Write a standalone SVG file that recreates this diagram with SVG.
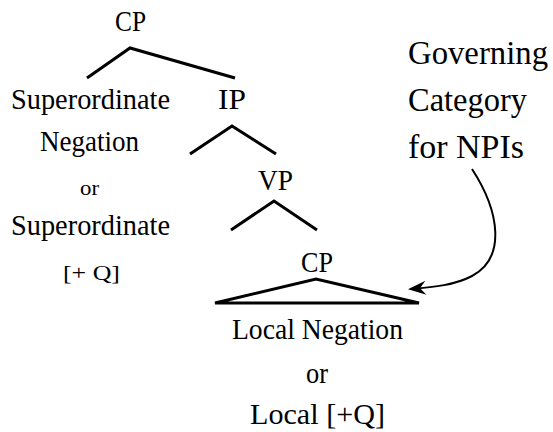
<svg xmlns="http://www.w3.org/2000/svg" width="553" height="432" viewBox="0 0 553 432">
<defs>
<style>
text{font-family:"Liberation Serif","Times New Roman",serif;fill:#000;text-anchor:start}
.n{font-size:29px}
.s{font-size:22px}
.g{font-size:33px}
.e{fill:none;stroke:#000;stroke-width:3;stroke-linecap:butt;stroke-linejoin:miter}
.a{fill:none;stroke:#000;stroke-width:2}
</style>
<marker id="ah" viewBox="0 0 20 14" refX="18" refY="7" markerWidth="20" markerHeight="14" markerUnits="userSpaceOnUse" orient="auto">
<path d="M20,7 L2,0 L8,7 L2,14 Z" fill="#000"/>
</marker>
</defs>
<rect width="553" height="432" fill="#fff"/>
<g id="cp-top"><text class="n" x="115" y="31" textLength="31" lengthAdjust="spacingAndGlyphs">CP</text></g>
<g id="superordinate-neg">
<text class="n" x="11" y="109" textLength="159" lengthAdjust="spacingAndGlyphs">Superordinate</text>
<text class="n" x="40" y="151" textLength="99" lengthAdjust="spacingAndGlyphs">Negation</text>
<text class="s" x="80" y="195" textLength="19" lengthAdjust="spacingAndGlyphs">or</text>
<text class="n" x="11" y="235" textLength="159" lengthAdjust="spacingAndGlyphs">Superordinate</text>
<text class="s" x="63" y="280" textLength="57" lengthAdjust="spacingAndGlyphs">[+ Q]</text>
</g>
<g id="ip"><text class="n" x="218" y="109" textLength="28" lengthAdjust="spacingAndGlyphs">IP</text></g>
<g id="vp"><text class="n" x="258" y="190" textLength="35" lengthAdjust="spacingAndGlyphs">VP</text></g>
<g id="cp-low"><text class="n" x="301" y="272" textLength="32" lengthAdjust="spacingAndGlyphs">CP</text></g>
<g id="local">
<text class="n" x="232" y="339" textLength="171" lengthAdjust="spacingAndGlyphs">Local Negation</text>
<text class="n" x="306" y="383" textLength="22" lengthAdjust="spacingAndGlyphs">or</text>
<text class="n" x="250" y="424" textLength="135" lengthAdjust="spacingAndGlyphs">Local [+Q]</text>
</g>
<g id="governing">
<text class="g" x="408" y="64" textLength="140" lengthAdjust="spacingAndGlyphs">Governing</text>
<text class="g" x="408" y="111" textLength="119" lengthAdjust="spacingAndGlyphs">Category</text>
<text class="g" x="408" y="158" textLength="116" lengthAdjust="spacingAndGlyphs">for NPIs</text>
</g>
<g id="connectors">
<polyline class="e" points="87,78 130,48 235,78"/>
<polyline class="e" points="190,154 232,126 276,154"/>
<polyline class="e" points="231,230 274,201 317,230"/>
<polygon class="e" points="215,303 316,279 419,303"/>
<path class="a" d="M472,169 C500,212 506,258 472,276 C455,285 435,287 410,289" marker-end="url(#ah)"/>
</g>
</svg>
